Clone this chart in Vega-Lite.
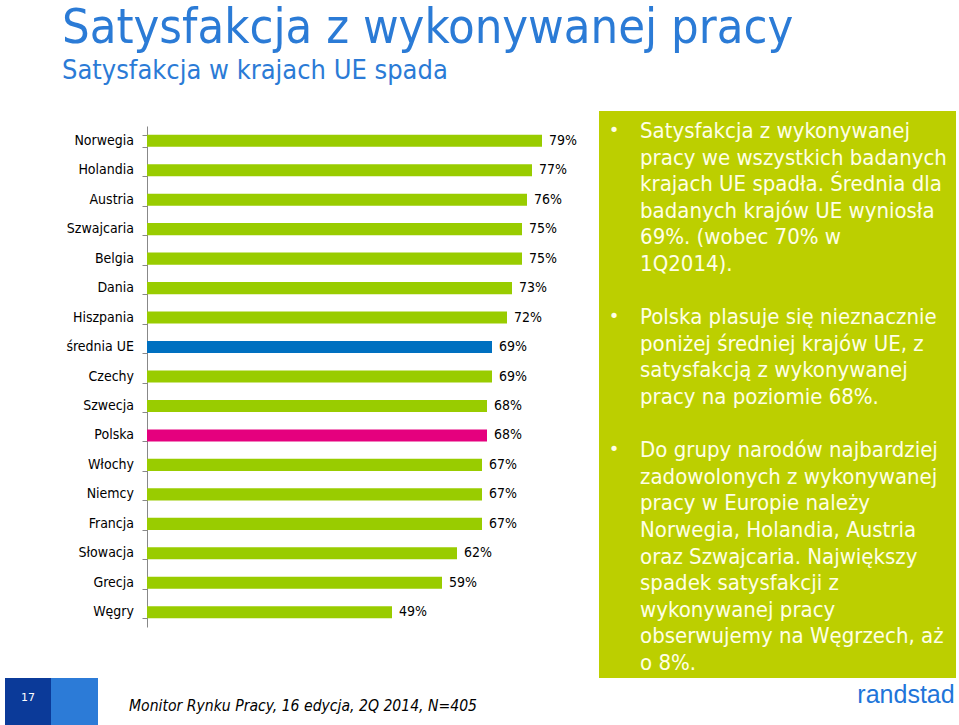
{
  "$schema": "https://vega.github.io/schema/vega-lite/v6.json",
  "padding": {"left": 5, "top": 3, "right": 2, "bottom": 0},
  "background": "white",
  "config": {"view": {"stroke": null}, "font": "DejaVu Sans Condensed"},
  "title": {
    "text": "Satysfakcja z wykonywanej pracy",
    "subtitle": "Satysfakcja w krajach UE spada",
    "anchor": "start",
    "dx": 57,
    "font": "DejaVu Sans Condensed",
    "fontSize": 48.5,
    "fontWeight": "normal",
    "color": "#2B7BD6",
    "subtitleFont": "DejaVu Sans Condensed",
    "subtitleFontSize": 27,
    "subtitleColor": "#2B7BD6",
    "subtitlePadding": 5,
    "offset": 26
  },
  "datasets": {
    "countries": [
      {"country": "Norwegia", "value": 0.79, "group": "kraj"},
      {"country": "Holandia", "value": 0.77, "group": "kraj"},
      {"country": "Austria", "value": 0.76, "group": "kraj"},
      {"country": "Szwajcaria", "value": 0.75, "group": "kraj"},
      {"country": "Belgia", "value": 0.75, "group": "kraj"},
      {"country": "Dania", "value": 0.73, "group": "kraj"},
      {"country": "Hiszpania", "value": 0.72, "group": "kraj"},
      {"country": "średnia UE", "value": 0.69, "group": "UE"},
      {"country": "Czechy", "value": 0.69, "group": "kraj"},
      {"country": "Szwecja", "value": 0.68, "group": "kraj"},
      {"country": "Polska", "value": 0.68, "group": "Polska"},
      {"country": "Włochy", "value": 0.67, "group": "kraj"},
      {"country": "Niemcy", "value": 0.67, "group": "kraj"},
      {"country": "Francja", "value": 0.67, "group": "kraj"},
      {"country": "Słowacja", "value": 0.62, "group": "kraj"},
      {"country": "Grecja", "value": 0.59, "group": "kraj"},
      {"country": "Węgry", "value": 0.49, "group": "kraj"}
    ]
  },
  "spacing": 0,
  "vconcat": [
    {
      "spacing": 0,
      "hconcat": [
        {
          "width": 136,
          "height": 567,
          "data": {"name": "countries"},
          "mark": {"type": "text", "align": "right", "baseline": "middle", "dx": -7, "fontSize": 14, "color": "#000000", "font": "DejaVu Sans Condensed"},
          "encoding": {
            "y": {
              "field": "country",
              "type": "nominal",
              "sort": null,
              "scale": {"range": [15, 516], "paddingInner": 0.59, "paddingOuter": 0.295},
              "axis": null
            },
            "x": {"datum": 1, "type": "quantitative", "scale": {"domain": [0, 1], "nice": false}, "axis": null},
            "text": {"field": "country", "type": "nominal"}
          }
        },
        {
          "width": 452,
          "height": 567,
          "data": {"name": "countries"},
          "encoding": {
            "y": {
              "field": "country",
              "type": "nominal",
              "sort": null,
              "scale": {"range": [15, 516], "paddingInner": 0.59, "paddingOuter": 0.295},
              "axis": {
                "title": null,
                "labels": false,
                "tickSize": 5,
                "tickColor": "#888888",
                "domainColor": "#888888",
                "tickBand": "extent"
              }
            },
            "x": {"field": "value", "type": "quantitative", "scale": {"domain": [0, 0.904], "nice": false}, "axis": null}
          },
          "layer": [
            {
              "mark": {"type": "bar"},
              "encoding": {
                "color": {
                  "field": "group",
                  "type": "nominal",
                  "scale": {"domain": ["kraj", "UE", "Polska"], "range": ["#99CC00", "#0070C0", "#E5007E"]},
                  "legend": null
                }
              }
            },
            {
              "mark": {"type": "text", "align": "left", "baseline": "middle", "dx": 7, "fontSize": 14, "color": "#000000", "font": "DejaVu Sans Condensed"},
              "encoding": {"text": {"field": "value", "type": "quantitative", "format": ".0%"}}
            }
          ]
        },
        {
          "width": 357,
          "height": 567,
          "view": {"fill": "#BCCF00", "stroke": null},
          "data": {
            "values": [
              {"row": 0, "bullet": true, "text": "Satysfakcja z wykonywanej"},
              {"row": 1, "bullet": false, "text": "pracy we wszystkich badanych"},
              {"row": 2, "bullet": false, "text": "krajach UE spadła. Średnia dla"},
              {"row": 3, "bullet": false, "text": "badanych krajów UE wyniosła"},
              {"row": 4, "bullet": false, "text": "69%. (wobec 70% w"},
              {"row": 5, "bullet": false, "text": "1Q2014)."},
              {"row": 7, "bullet": true, "text": "Polska plasuje się nieznacznie"},
              {"row": 8, "bullet": false, "text": "poniżej średniej krajów UE, z"},
              {"row": 9, "bullet": false, "text": "satysfakcją z wykonywanej"},
              {"row": 10, "bullet": false, "text": "pracy na poziomie 68%."},
              {"row": 12, "bullet": true, "text": "Do grupy narodów najbardziej"},
              {"row": 13, "bullet": false, "text": "zadowolonych z wykonywanej"},
              {"row": 14, "bullet": false, "text": "pracy w Europie należy"},
              {"row": 15, "bullet": false, "text": "Norwegia, Holandia, Austria"},
              {"row": 16, "bullet": false, "text": "oraz Szwajcaria. Największy"},
              {"row": 17, "bullet": false, "text": "spadek satysfakcji z"},
              {"row": 18, "bullet": false, "text": "wykonywanej pracy"},
              {"row": 19, "bullet": false, "text": "obserwujemy na Węgrzech, aż"},
              {"row": 20, "bullet": false, "text": "o 8%."}
            ]
          },
          "encoding": {
            "y": {"field": "row", "type": "quantitative", "scale": {"domain": [-0.752, 20.564], "reverse": true, "nice": false, "zero": false}, "axis": null}
          },
          "layer": [
            {
              "transform": [{"filter": "datum.bullet"}],
              "mark": {"type": "text", "text": "•", "align": "center", "baseline": "middle", "fontSize": 18, "color": "#FFFFE6", "font": "DejaVu Sans"},
              "encoding": {"x": {"datum": 0.42, "type": "quantitative", "scale": {"domain": [0, 10], "nice": false}, "axis": null}}
            },
            {
              "mark": {"type": "text", "align": "left", "baseline": "middle", "fontSize": 22, "color": "#FFFFE6", "font": "DejaVu Sans Condensed"},
              "encoding": {
                "x": {"datum": 1.15, "type": "quantitative", "scale": {"domain": [0, 10], "nice": false}, "axis": null},
                "text": {"field": "text", "type": "nominal"}
              }
            }
          ]
        }
      ]
    },
    {
      "spacing": 0,
      "hconcat": [
        {
          "width": 46,
          "height": 48,
          "view": {"fill": "#0B3A99", "stroke": null},
          "data": {"values": [{"page": "17"}]},
          "mark": {"type": "text", "color": "#FFFFFF", "fontSize": 11, "font": "DejaVu Sans", "dy": -4},
          "encoding": {"text": {"field": "page", "type": "nominal"}}
        },
        {
          "width": 47,
          "height": 48,
          "view": {"fill": "#2C7BD7", "stroke": null},
          "data": {"values": []},
          "mark": {"type": "text"},
          "encoding": {"text": {"field": "page", "type": "nominal"}}
        },
        {
          "width": 410,
          "height": 48,
          "data": {"values": [{"source": "Monitor Rynku Pracy, 16 edycja, 2Q 2014, N=405"}]},
          "mark": {"type": "text", "fontStyle": "italic", "fontSize": 15.6, "color": "#000000", "font": "DejaVu Sans Condensed", "dy": 4},
          "encoding": {"text": {"field": "source", "type": "nominal"}}
        },
        {
          "width": 347,
          "height": 48,
          "data": {"values": []},
          "mark": {"type": "text"},
          "encoding": {"text": {"field": "page", "type": "nominal"}}
        },
        {
          "width": 102,
          "height": 48,
          "data": {"values": [{"brand": "randstad"}]},
          "mark": {"type": "text", "fontSize": 25, "color": "#2175D9", "font": "Liberation Sans", "dy": -7},
          "encoding": {"text": {"field": "brand", "type": "nominal"}}
        }
      ]
    }
  ]
}
